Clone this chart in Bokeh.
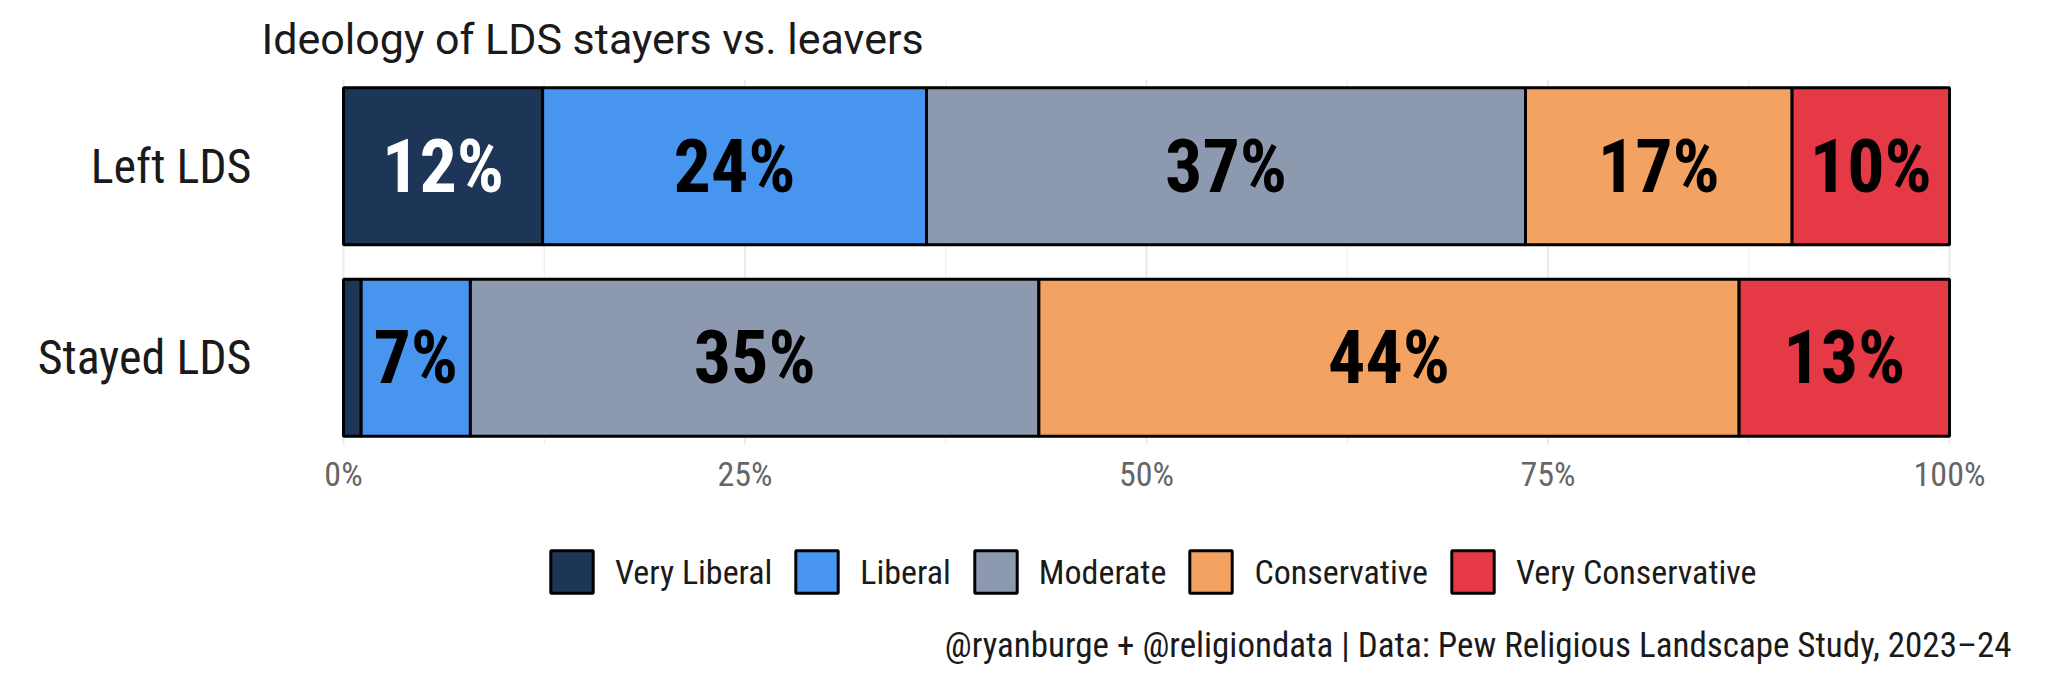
import numpy as np
from bokeh.plotting import figure
from bokeh.models import Range1d, Label, Legend, LegendItem, ColumnDataSource
from bokeh.core.properties import value
from bokeh.embed import file_html
from bokeh.resources import INLINE

groups = ["Left LDS", "Stayed LDS"]
ideologies = ["Very Liberal", "Liberal", "Moderate", "Conservative", "Very Conservative"]
colors = ["#1D3557", "#4895EF", "#8D99AE", "#F4A261", "#E63946"]
label_colors = ["white", "black", "black", "black", "black"]
left_lds = [12.4, 23.9, 37.3, 16.6, 9.8]
stayed_lds = [1.1, 6.8, 35.4, 43.6, 13.1]
x_ticks = [0, 25, 50, 75, 100]
x_minor = [12.5, 37.5, 62.5, 87.5]
x_tick_labels = ["0%", "25%", "50%", "75%", "100%"]
title_text = "Ideology of LDS stayers vs. leavers"
caption_text = "@ryanburge + @religiondata | Data: Pew Religious Landscape Study, 2023\u201324"

FONT = "Roboto Condensed"
TFONT = "Roboto"

W, H = 2040, 678
# plot panel in pixels (from top-left of canvas)
PL, PR, PT, PB = 343, 1949, 79, 444
BAR_H = 0.82
PAD = 0.453  # panel padding beyond outer bar centres (category units)

data = np.array([left_lds, stayed_lds])
ypos = np.array([len(groups) - i for i in range(len(groups))], dtype=float)
cum = np.cumsum(data, axis=1)
lefts = cum - data

y_lo, y_hi = ypos.min() - PAD, ypos.max() + PAD
xs = 100.0 / (PR - PL)
ys = (y_hi - y_lo) / (PB - PT)
p = figure(width=W, height=H, output_backend="svg", toolbar_location=None,
           x_range=Range1d(0 - PL * xs, 100 + (W - PR) * xs),
           y_range=Range1d(y_lo - (H - PB) * ys, y_hi + PT * ys),
           min_border=0, x_axis_type=None, y_axis_type=None)
p.outline_line_color = None
p.grid.visible = False

# grid lines limited to the panel
gx = x_ticks + x_minor
gw = [2] * len(x_ticks) + [1] * len(x_minor)
p.segment(x0=gx, x1=gx, y0=[y_lo] * len(gx), y1=[y_hi] * len(gx),
          line_color="#ebebeb", line_width=gw)

items = []
for j, name in enumerate(ideologies):
    src = ColumnDataSource(dict(y=ypos, left=lefts[:, j], right=cum[:, j]))
    r = p.hbar(y="y", left="left", right="right", height=BAR_H, source=src,
               fill_color=colors[j], line_color="black", line_width=3)
    items.append(LegendItem(label=name, renderers=[r]))
    vals = data[:, j]
    mids = (lefts[:, j] + cum[:, j]) / 2
    txt = [f"{int(round(v))}%" if v >= 3 else "" for v in vals]
    tsrc = ColumnDataSource(dict(x=mids, y=ypos, t=txt))
    p.text(x="x", y="y", text="t", source=tsrc, text_align="center", text_baseline="middle",
           text_font=value(FONT), text_font_style="bold", text_font_size="74px",
           text_color=label_colors[j])

# x tick labels
p.text(x=x_ticks, y=[y_lo] * len(x_ticks), text=x_tick_labels, y_offset=29,
       text_align="center", text_baseline="middle", text_font=value(FONT),
       text_font_size="34px", text_color="#666666")
# y category labels
p.text(x=[0] * len(groups), y=ypos, text=groups, x_offset=-92,
       text_align="right", text_baseline="middle", text_font=value(FONT),
       text_font_size="48px", text_color="#1a1a1a")

p.add_layout(Label(x=261, y=H - 38, x_units="screen", y_units="screen", text=title_text,
                   text_font=TFONT, text_font_size="43px", text_color="#1a1a1a",
                   text_baseline="middle", text_align="left"))
p.add_layout(Label(x=2011, y=H - 645, x_units="screen", y_units="screen", text=caption_text,
                   text_font=FONT, text_font_size="35px", text_color="#1a1a1a",
                   text_baseline="middle", text_align="right"))

legend = Legend(items=items, orientation="horizontal", location=(545, H - 598),
                glyph_width=53, glyph_height=53, label_standoff=17, spacing=18,
                padding=0, margin=0, border_line_alpha=0, background_fill_alpha=0,
                label_text_font=FONT, label_text_font_size="34px", label_text_color="#1a1a1a")
p.add_layout(legend)

open("out.html", "w").write(file_html(p, INLINE))
